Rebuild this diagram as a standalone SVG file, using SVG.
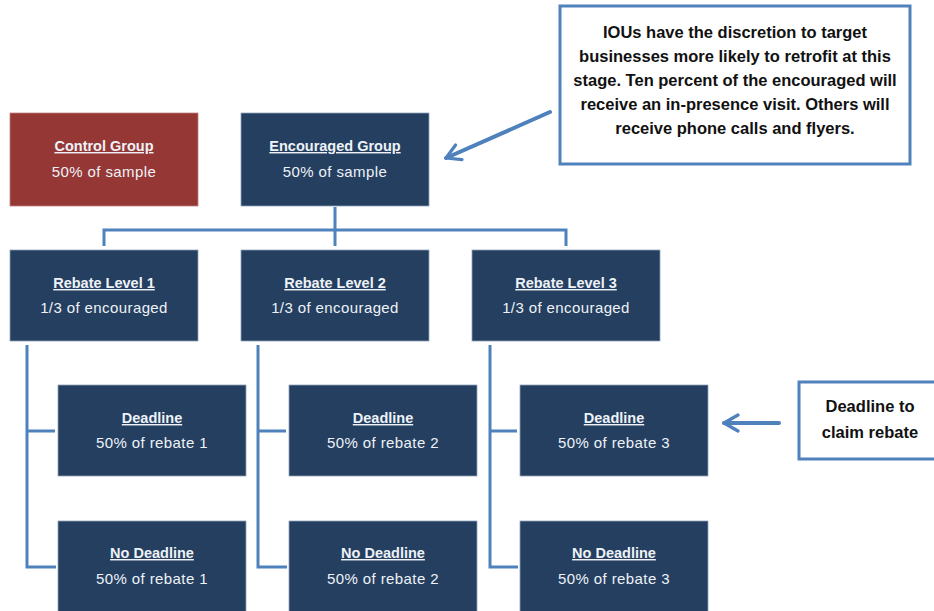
<svg xmlns="http://www.w3.org/2000/svg" width="934" height="611" viewBox="0 0 934 611">
<style>
.box{fill:#243f60;stroke:#8fa3bc;stroke-width:0.8}
.red{fill:#953735;stroke:#c08080;stroke-width:0.8}
.t{font-family:"Liberation Sans",Arial,sans-serif;font-size:15px;fill:#eef2f7;text-anchor:middle;letter-spacing:0.4px}
.h{font-weight:bold;text-decoration:underline;font-size:14.5px;letter-spacing:0}
.c{fill:none;stroke:#4f81bd;stroke-width:3;stroke-linejoin:miter}
.note{fill:#fff;stroke:#4f81bd;stroke-width:3}
.nt{font-family:"Liberation Sans",Arial,sans-serif;font-size:16.5px;font-weight:bold;fill:#111;text-anchor:middle}
.ar{fill:none;stroke:#4f81bd;stroke-width:4;stroke-linecap:round}
</style>
<defs>
<marker id="v" viewBox="0 0 10 10" refX="8" refY="5" markerWidth="5" markerHeight="5" orient="auto" markerUnits="strokeWidth">
<path d="M1,1 L8,5 L1,9" fill="none" stroke="#4f81bd" stroke-width="1.6" stroke-linecap="round" stroke-linejoin="round"/>
</marker>
</defs>
<rect width="934" height="611" fill="#fff"/>
<g id="connectors">
<path class="c" d="M335,207 V246 M104,246 V230 H566 V246"/>
<path class="c" d="M55,431 H27 V345 M27,431 V567 H56"/>
<path class="c" d="M286,431 H258 V345 M258,431 V567 H287"/>
<path class="c" d="M517,431 H490 V345 M490,431 V567 H518"/>
<line class="ar" x1="550" y1="112" x2="446" y2="158" marker-end="url(#v)"/>
<line class="ar" x1="779" y1="423" x2="724" y2="423" marker-end="url(#v)"/>
</g>
<g id="control">
<rect class="red" x="10" y="113" width="188" height="93"/>
<text class="t h" x="104" y="151">Control Group</text>
<text class="t" x="104" y="177">50% of sample</text>
</g>
<g id="encouraged">
<rect class="box" x="241" y="113" width="188" height="93"/>
<text class="t h" x="335" y="151">Encouraged Group</text>
<text class="t" x="335" y="177">50% of sample</text>
</g>
<g id="rebate1">
<rect class="box" x="10" y="250" width="188" height="91"/>
<text class="t h" x="104" y="288">Rebate Level 1</text>
<text class="t" x="104" y="313">1/3 of encouraged</text>
</g>
<g id="rebate2">
<rect class="box" x="241" y="250" width="188" height="91"/>
<text class="t h" x="335" y="288">Rebate Level 2</text>
<text class="t" x="335" y="313">1/3 of encouraged</text>
</g>
<g id="rebate3">
<rect class="box" x="472" y="250" width="188" height="91"/>
<text class="t h" x="566" y="288">Rebate Level 3</text>
<text class="t" x="566" y="313">1/3 of encouraged</text>
</g>
<g id="deadline1">
<rect class="box" x="58" y="385" width="188" height="91"/>
<text class="t h" x="152" y="423">Deadline</text>
<text class="t" x="152" y="448">50% of rebate 1</text>
</g>
<g id="deadline2">
<rect class="box" x="289" y="385" width="188" height="91"/>
<text class="t h" x="383" y="423">Deadline</text>
<text class="t" x="383" y="448">50% of rebate 2</text>
</g>
<g id="deadline3">
<rect class="box" x="520" y="385" width="188" height="91"/>
<text class="t h" x="614" y="423">Deadline</text>
<text class="t" x="614" y="448">50% of rebate 3</text>
</g>
<g id="nodeadline1">
<rect class="box" x="58" y="521" width="188" height="95"/>
<text class="t h" x="152" y="558">No Deadline</text>
<text class="t" x="152" y="584">50% of rebate 1</text>
</g>
<g id="nodeadline2">
<rect class="box" x="289" y="521" width="188" height="95"/>
<text class="t h" x="383" y="558">No Deadline</text>
<text class="t" x="383" y="584">50% of rebate 2</text>
</g>
<g id="nodeadline3">
<rect class="box" x="520" y="521" width="188" height="95"/>
<text class="t h" x="614" y="558">No Deadline</text>
<text class="t" x="614" y="584">50% of rebate 3</text>
</g>
<g id="iou-note">
<rect class="note" x="560" y="6" width="350" height="158"/>
<text class="nt" x="735" y="38">IOUs have the discretion to target</text>
<text class="nt" x="735" y="62">businesses more likely to retrofit at this</text>
<text class="nt" x="735" y="86">stage. Ten percent of the encouraged will</text>
<text class="nt" x="735" y="110">receive an in-presence visit. Others will</text>
<text class="nt" x="735" y="134">receive phone calls and flyers.</text>
</g>
<g id="deadline-note">
<rect class="note" x="799" y="382" width="140" height="77"/>
<text class="nt" x="870" y="412">Deadline to</text>
<text class="nt" x="870" y="438">claim rebate</text>
</g>
</svg>
